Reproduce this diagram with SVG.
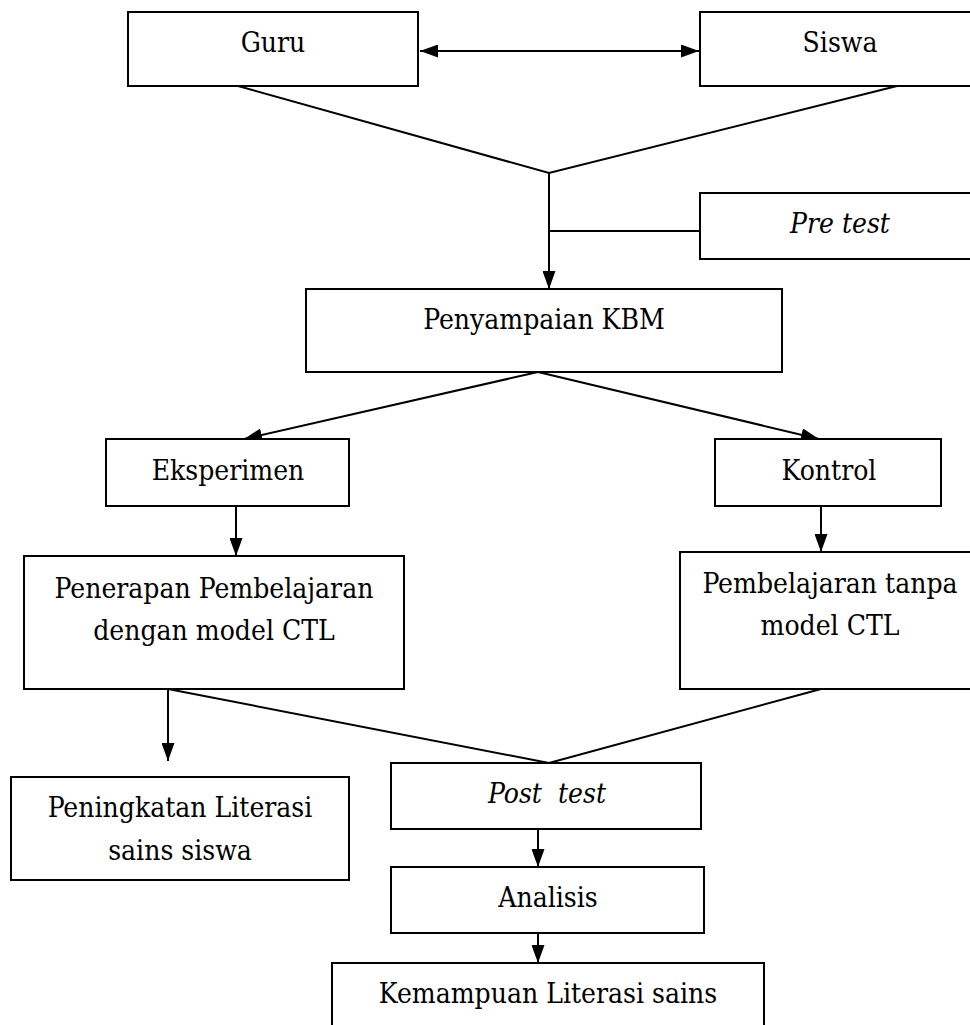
<svg xmlns="http://www.w3.org/2000/svg" width="970" height="1025" viewBox="0 0 970 1025">
<defs>
<marker id="ah" viewBox="0 0 18 13" refX="18" refY="6.5" markerWidth="18" markerHeight="13" markerUnits="userSpaceOnUse" orient="auto-start-reverse">
<path d="M0,0 L18,6.5 L0,13 Z" fill="#000"/>
</marker>
</defs>
<style type="text/css">
.box{fill:#fff;stroke:#000;stroke-width:2}
.c{stroke:#000;stroke-width:2;fill:none}
</style>
<rect width="970" height="1025" fill="#fff"/>
<g id="connectors">
<line class="c" x1="420" y1="51" x2="699" y2="51" marker-start="url(#ah)" marker-end="url(#ah)" stroke-width="3"/>
<polyline class="c" points="238,86 549,173 897,86"/>
<line class="c" x1="549" y1="173" x2="549" y2="289" marker-end="url(#ah)"/>
<line class="c" x1="549" y1="231" x2="700" y2="231"/>
<line class="c" x1="538" y1="372" x2="244" y2="439" marker-end="url(#ah)"/>
<line class="c" x1="538" y1="372" x2="819" y2="439" marker-end="url(#ah)"/>
<line class="c" x1="236" y1="506" x2="236" y2="556" marker-end="url(#ah)"/>
<line class="c" x1="821" y1="506" x2="821" y2="552" marker-end="url(#ah)"/>
<line class="c" x1="168" y1="689" x2="168" y2="761" marker-end="url(#ah)"/>
<polyline class="c" points="168,689 549,763 821,689"/>
<line class="c" x1="538" y1="829" x2="538" y2="867" marker-end="url(#ah)"/>
<line class="c" x1="538" y1="933" x2="538" y2="963" marker-end="url(#ah)"/>
</g>
<g font-family="DejaVu Serif Condensed, DejaVu Serif, serif" font-stretch="condensed" font-size="28" text-anchor="middle" fill="#000">
<g id="guru"><rect class="box" x="128" y="12" width="290" height="74"/><text x="273" y="52">Guru</text></g>
<g id="siswa"><rect class="box" x="700" y="12" width="290" height="74"/><text x="840" y="52">Siswa</text></g>
<g id="pretest"><rect class="box" x="700" y="193" width="290" height="66"/><text x="840" y="233" font-style="italic">Pre test</text></g>
<g id="penyampaian"><rect class="box" x="306" y="289" width="476" height="83"/><text x="544" y="329">Penyampaian KBM</text></g>
<g id="eksperimen"><rect class="box" x="106" y="439" width="243" height="67"/><text x="228" y="480">Eksperimen</text></g>
<g id="kontrol"><rect class="box" x="715" y="439" width="226" height="67"/><text x="829" y="480">Kontrol</text></g>
<g id="penerapan"><rect class="box" x="24" y="556" width="380" height="133"/><text x="214" y="598">Penerapan Pembelajaran</text><text x="214" y="640">dengan model CTL</text></g>
<g id="pembelajaran"><rect class="box" x="680" y="552" width="300" height="137"/><text x="830" y="593">Pembelajaran tanpa</text><text x="830" y="635">model CTL</text></g>
<g id="peningkatan"><rect class="box" x="11" y="777" width="338" height="103"/><text x="180" y="817">Peningkatan Literasi</text><text x="180" y="860">sains siswa</text></g>
<g id="posttest"><rect class="box" x="391" y="763" width="310" height="66"/><text x="547" y="803" font-style="italic" xml:space="preserve">Post  test</text></g>
<g id="analisis"><rect class="box" x="391" y="867" width="313" height="66"/><text x="548" y="907">Analisis</text></g>
<g id="kemampuan"><rect class="box" x="332" y="963" width="432" height="80"/><text x="548" y="1003">Kemampuan Literasi sains</text></g>
</g>
</svg>
